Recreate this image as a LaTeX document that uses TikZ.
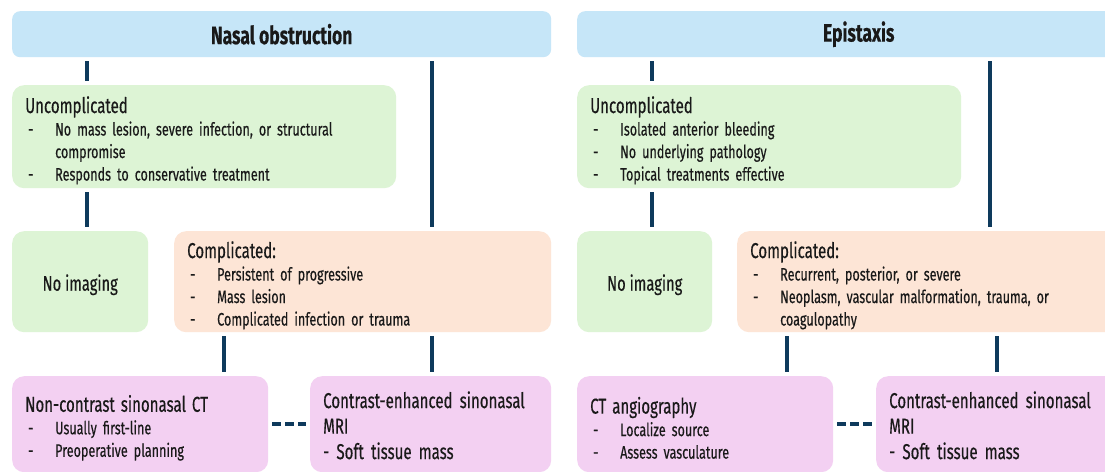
\documentclass[tikz,border=0pt]{standalone}
\usepackage{fontspec}
\setmainfont{Fira Sans}[FakeStretch=0.7, FakeBold=0.4]
\usetikzlibrary{calc}
\definecolor{tblue}{RGB}{198,230,248}
\definecolor{ggreen}{RGB}{221,244,213}
\definecolor{opeach}{RGB}{253,229,214}
\definecolor{ppink}{RGB}{243,208,242}
\definecolor{navy}{RGB}{14,58,92}
\newcommand{\bul}[1]{\makebox[30pt][l]{\hspace{3pt}-}#1}
\newcommand{\hd}{\fontsize{21.5}{22.5}\selectfont}
\newcommand{\tp}{\rule{0pt}{24pt}}

\begin{document}
\begin{tikzpicture}[x=1pt, y=1pt, every node/.style={text=black!90, font=\fontsize{18}{22.5}\selectfont}]
\tikzset{
  tbox/.style={fill=tblue, rounded corners=8pt, anchor=north west, minimum height=46pt, inner sep=0pt, font=\fontsize{25}{28}\bfseries\selectfont},
  gbox/.style={fill=ggreen, rounded corners=12pt, anchor=north west, inner xsep=13pt, inner ysep=0pt, align=left},
  obox/.style={gbox, fill=opeach},
  pbox/.style={gbox, fill=ppink},
  link/.style={draw=navy, line width=4pt, shorten >=4pt, shorten <=4pt},
  dlink/.style={link, dash pattern=on 9pt off 4pt},
}
\fill[white] (0,0) rectangle (1105,-471);
\useasboundingbox (0,0) rectangle (1105,-471);
\clip (0,0) rectangle (1105,-471);
% nasal obstruction
\node[tbox, minimum width=539pt] (nasal) at (12,-11) {Nasal obstruction};
\node[gbox, text width=358pt, minimum height=103pt] (uncL) at (12,-85) {{\hd\tp Uncomplicated}\\
  \bul{No mass lesion, severe infection, or structural}\\
  \hspace*{30pt}compromise\\
  \bul{Responds to conservative treatment}};
\node[gbox, minimum width=136pt, minimum height=101pt, align=center, font=\fontsize{21}{24}\selectfont] (noimgL) at (12,-231) {\rule{0pt}{22.5pt}No imaging};
\node[obox, text width=351pt, minimum height=101pt] (compL) at (174,-231) {{\hd\tp Complicated:}\\
  \bul{Persistent of progressive}\\
  \bul{Mass lesion}\\
  \bul{Complicated infection or trauma}};
\node[pbox, text width=230pt, minimum height=96pt] (ctL) at (12,-376) {{\hd\tp Non-contrast sinonasal CT}\\
  \bul{Usually first-line}\\
  \bul{Preoperative planning}};
\node[pbox, text width=215pt, minimum height=96pt, font=\hd] (mriL) at (310,-376) {\rule{0pt}{19pt}Contrast-enhanced sinonasal\\[3pt]
  MRI\\[3pt]
  - Soft tissue mass};
\draw[link] ([xshift=75pt]nasal.south west) -- ([xshift=75pt]uncL.north west);
\draw[link] ([xshift=420pt]nasal.south west) -- ([xshift=258pt]compL.north west);
\draw[link] ([xshift=75pt]uncL.south west) -- ([xshift=75pt]noimgL.north west);
\draw[link] ([xshift=50pt]compL.south west) -- ([xshift=212pt]ctL.north west);
\draw[link] ([xshift=258pt]compL.south west) -- ([xshift=122pt]mriL.north west);
\draw[dlink] (ctL) -- (mriL);
% epistaxis
\node[tbox, minimum width=563pt] (epi) at (577,-11) {Epistaxis};
\node[gbox, text width=358pt, minimum height=103pt] (uncR) at (577,-85) {{\hd\tp Uncomplicated}\\
  \bul{Isolated anterior bleeding}\\
  \bul{No underlying pathology}\\
  \bul{Topical treatments effective}};
\node[gbox, minimum width=135pt, minimum height=101pt, align=center, font=\fontsize{21}{24}\selectfont] (noimgR) at (577,-231) {\rule{0pt}{22.5pt}No imaging};
\node[obox, text width=374pt, minimum height=101pt] (compR) at (737,-231) {{\hd\tp Complicated:}\\
  \bul{Recurrent, posterior, or severe}\\
  \bul{Neoplasm, vascular malformation, trauma, or}\\
  \hspace*{30pt}coagulopathy};
\node[pbox, text width=230pt, minimum height=96pt] (ctR) at (577,-376) {{\hd\tp CT angiography}\\
  \bul{Localize source}\\
  \bul{Assess vasculature}};
\node[pbox, text width=234pt, minimum height=96pt, font=\hd] (mriR) at (876,-376) {\rule{0pt}{19pt}Contrast-enhanced sinonasal\\[3pt]
  MRI\\[3pt]
  - Soft tissue mass};
\draw[link] ([xshift=75pt]epi.south west) -- ([xshift=75pt]uncR.north west);
\draw[link] ([xshift=413pt]epi.south west) -- ([xshift=253pt]compR.north west);
\draw[link] ([xshift=75pt]uncR.south west) -- ([xshift=75pt]noimgR.north west);
\draw[link] ([xshift=50pt]compR.south west) -- ([xshift=210pt]ctR.north west);
\draw[link] ([xshift=260pt]compR.south west) -- ([xshift=121pt]mriR.north west);
\draw[dlink] (ctR) -- (mriR);
\end{tikzpicture}
\end{document}
